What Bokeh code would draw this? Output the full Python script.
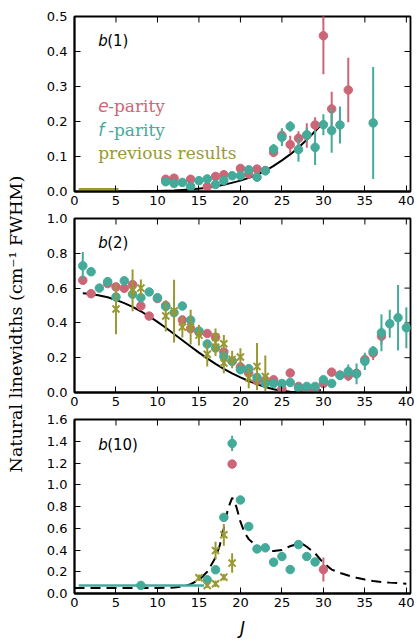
import numpy as np
from bokeh.plotting import figure
from bokeh.layouts import row, column
from bokeh.models import Range1d, LinearAxis, FixedTicker, PrintfTickFormatter, Label
from bokeh.embed import file_html
from bokeh.resources import INLINE

ROSE = "#CC6677"
TEAL = "#44AA99"
OLIVE = "#999933"
SANS = "DejaVu Sans"
SERIF = "DejaVu Serif"

X_MAX = 40.5
x_ticks = [0, 5, 10, 15, 20, 25, 30, 35, 40]

# ---- b(1) ----
b1_e_J = [11, 12, 14, 16, 17, 18, 20, 21, 22, 23, 24, 25, 26, 27, 28, 29, 30, 31, 33]
b1_e_w = [0.035, 0.038, 0.035, 0.014, 0.043, 0.048, 0.066, 0.050, 0.064, 0.060,
          0.112, 0.160, 0.134, 0.152, 0.160, 0.190, 0.445, 0.236, 0.290]
b1_e_err = [0.004, 0.004, 0.004, 0.004, 0.004, 0.005, 0.006, 0.006, 0.006, 0.008,
            0.012, 0.020, 0.025, 0.020, 0.035, 0.022, 0.110, 0.049, 0.092]
b1_f_J = [11, 12, 13, 14, 15, 16, 17, 18, 19, 20, 21, 22, 23, 24, 25, 26, 27, 28, 29, 30, 31, 32, 36]
b1_f_w = [0.028, 0.023, 0.026, 0.014, 0.031, 0.036, 0.020, 0.031, 0.045, 0.045, 0.062, 0.041,
          0.059, 0.121, 0.155, 0.186, 0.120, 0.162, 0.126, 0.191, 0.174, 0.190, 0.196]
b1_f_err = [0.004, 0.004, 0.004, 0.004, 0.004, 0.004, 0.004, 0.004, 0.005, 0.005, 0.005, 0.005,
            0.008, 0.015, 0.025, 0.015, 0.035, 0.020, 0.050, 0.030, 0.063, 0.053, 0.160]
b1_prev_J = [0.5, 5.3]
b1_prev_w = [0.006, 0.006]
b1_fit_J = [5, 8, 10, 12, 14, 16, 18, 20, 21, 22, 23, 24, 25, 26, 27, 28, 29, 29.7]
b1_fit_w = [0.0, 0.0005, 0.0015, 0.003, 0.006, 0.011, 0.019, 0.031, 0.039, 0.048,
            0.059, 0.073, 0.089, 0.106, 0.126, 0.148, 0.172, 0.190]

# ---- b(2) ----
b2_e_J = [1, 2, 4, 5, 6, 7, 8, 9, 10, 11, 13, 14, 15, 16, 17, 18, 19, 20, 21, 22, 23, 24,
          25, 26, 27, 28, 29, 30, 31, 32, 33, 34, 35, 36, 37]
b2_e_w = [0.645, 0.568, 0.626, 0.607, 0.599, 0.620, 0.497, 0.439, 0.540, 0.500, 0.417, 0.367,
          0.347, 0.339, 0.318, 0.233, 0.180, 0.147, 0.112, 0.067, 0.070, 0.073, 0.020, 0.112,
          0.035, 0.010, 0.020, 0.052, 0.117, 0.100, 0.096, 0.111, 0.189, 0.227, 0.324]
b2_e_err = [0.01] * 30 + [0.03, 0.02, 0.03, 0.04, 0.05]
b2_f_J = list(range(1, 41))
b2_f_w = [0.728, 0.694, 0.600, 0.637, 0.549, 0.642, 0.565, 0.545, 0.578, 0.545,
          0.494, 0.459, 0.497, 0.416, 0.353, 0.279, 0.256, 0.208, 0.179, 0.131,
          0.137, 0.087, 0.052, 0.052, 0.052, 0.058, 0.026, 0.035, 0.035, 0.073,
          0.052, 0.098, 0.121, 0.107, 0.179, 0.237, 0.343, 0.395, 0.430, 0.372]
b2_f_err = [0.08] + [0.01] * 31 + [0.04, 0.06, 0.05, 0.03, 0.106, 0.08, 0.188, 0.118]
b2_prev_J = [5, 7, 8, 11, 12, 13, 14, 15, 16, 17, 17, 18, 18, 19, 20, 21, 22, 23]
b2_prev_w = [0.48, 0.587, 0.60, 0.44, 0.468, 0.376, 0.376, 0.33, 0.22, 0.318, 0.26,
             0.28, 0.17, 0.19, 0.204, 0.084, 0.15, 0.092]
b2_prev_err = [0.145, 0.12, 0.05, 0.09, 0.18, 0.06, 0.10, 0.06, 0.07, 0.05, 0.05,
               0.05, 0.06, 0.05, 0.05, 0.06, 0.135, 0.12]
b2_fit_J = [1, 2, 3, 4, 5, 6, 7, 8, 9, 10, 11, 12, 13, 14, 15, 16, 17, 18, 19, 20,
            21, 22, 23, 24, 25, 26, 27, 28, 29, 29.7]
b2_fit_w = [0.570, 0.566, 0.558, 0.547, 0.532, 0.514, 0.492, 0.467, 0.438, 0.406,
            0.372, 0.336, 0.300, 0.264, 0.229, 0.196, 0.165, 0.136, 0.110, 0.087,
            0.066, 0.048, 0.032, 0.019, 0.010, 0.004, 0.002, 0.004, 0.009, 0.015]

# ---- b(10) ----
b10_e_J = [19, 30]
b10_e_w = [1.19, 0.22]
b10_e_err = [0.01, 0.11]
b10_f_J = [8, 16, 17, 18, 19, 20, 21, 22, 23, 24, 25, 26, 27, 28, 29]
b10_f_w = [0.074, 0.126, 0.218, 0.70, 1.38, 0.86, 0.616, 0.41, 0.42, 0.288, 0.34, 0.22, 0.45, 0.34, 0.29]
b10_f_err = [0.01, 0.01, 0.01, 0.02, 0.07, 0.02, 0.01, 0.01, 0.01, 0.01, 0.01, 0.01, 0.01, 0.01, 0.01]
b10_f_band_J = [0.5, 15.6]
b10_f_band_w = [0.074, 0.074]
b10_prev_J = [15, 16, 17, 17, 18, 18, 19]
b10_prev_w = [0.144, 0.074, 0.09, 0.395, 0.15, 0.54, 0.28]
b10_prev_err = [0.03, 0.02, 0.03, 0.08, 0.03, 0.10, 0.09]
b10_fit_J = [0, 5, 10, 12, 13, 14, 15, 16, 17, 17.5, 18, 18.5, 19, 19.5, 20, 20.5, 21, 22,
             23, 24, 25, 26, 27, 27.5, 28, 29, 30, 31, 32, 33, 34, 35, 36, 37, 38, 39, 40]
b10_fit_w = [0.05, 0.05, 0.05, 0.055, 0.065, 0.085, 0.125, 0.2, 0.33, 0.44, 0.6, 0.78, 0.88,
             0.8, 0.66, 0.56, 0.5, 0.43, 0.4, 0.39, 0.4, 0.435, 0.46, 0.455, 0.43, 0.37, 0.28,
             0.22, 0.19, 0.165, 0.145, 0.128, 0.115, 0.106, 0.1, 0.095, 0.09]

FRAME_W = 1.8
TICK_LEN = 6


def style_axis(ax, standoff):
    ax.major_tick_in = TICK_LEN
    ax.major_tick_out = 0
    ax.minor_tick_in = 0
    ax.minor_tick_out = 0
    ax.axis_line_color = "black"
    ax.axis_line_width = FRAME_W
    ax.major_tick_line_color = "black"
    ax.major_tick_line_width = 1
    ax.major_label_text_color = "black"
    ax.major_label_text_font = SANS
    ax.major_label_text_font_size = "13px"
    ax.major_label_standoff = standoff


def panel(height, top, bottom, ymax, yticks):
    p = figure(width=387, height=height, x_range=Range1d(0, X_MAX), y_range=Range1d(0, ymax),
               output_backend="svg", toolbar_location=None, x_axis_type=None, y_axis_type=None,
               min_border_left=44, min_border_right=7, min_border_top=top, min_border_bottom=bottom)
    p.outline_line_color = "black"
    p.outline_line_width = FRAME_W
    p.background_fill_color = "white"
    p.border_fill_color = "white"
    xb = LinearAxis(ticker=FixedTicker(ticks=x_ticks))
    style_axis(xb, 4)
    p.add_layout(xb, "below")
    yl = LinearAxis(ticker=FixedTicker(ticks=yticks), formatter=PrintfTickFormatter(format="%.1f"))
    style_axis(yl, 7)
    p.add_layout(yl, "left")
    # inward tick marks along the top and right edges of the frame
    p.ray(x=x_ticks, y=[ymax] * len(x_ticks), length=TICK_LEN, length_units="screen",
          angle=-np.pi / 2, line_color="black", line_width=1)
    p.ray(x=[X_MAX] * len(yticks), y=yticks, length=TICK_LEN, length_units="screen",
          angle=np.pi, line_color="black", line_width=1)
    return p


def errbars(p, J, w, err, color):
    J = np.asarray(J, float)
    w = np.asarray(w, float)
    e = np.asarray(err, float)
    p.segment(x0=J, y0=w - e, x1=J, y1=w + e, line_color=color, line_width=2)


def dots(p, J, w, err, color):
    errbars(p, J, w, err, color)
    p.scatter(J, w, size=8.5, fill_color=color, line_color=color)


def crosses(p, J, w, err):
    errbars(p, J, w, err, OLIVE)
    p.scatter(J, w, marker="x", size=10, line_color=OLIVE, line_width=2)


def tag(p, x, y, n):
    p.add_layout(Label(x=x, y=y, text="b", text_font=SANS, text_font_style="italic",
                       text_font_size="15px", text_baseline="middle", text_color="black"))
    p.add_layout(Label(x=x, y=y, x_offset=9, text="(%s)" % n, text_font=SANS,
                       text_font_size="15px", text_baseline="middle", text_color="black"))


# top panel
p1 = panel(212, 16, 21, 0.5, [0.0, 0.1, 0.2, 0.3, 0.4, 0.5])
p1.line(b1_fit_J, b1_fit_w, line_color="black", line_width=2)
p1.line(b1_prev_J, b1_prev_w, line_color=OLIVE, line_width=3)
dots(p1, b1_e_J, b1_e_w, b1_e_err, ROSE)
dots(p1, b1_f_J, b1_f_w, b1_f_err, TEAL)
tag(p1, 2.85, 0.431, "1")
for yv, lead, rest, col in ((0.245, "e", "-parity", ROSE), (0.177, "f", "-parity", TEAL)):
    p1.add_layout(Label(x=2.85, y=yv, text=lead, text_font=SANS, text_font_style="italic",
                        text_font_size="17px", text_baseline="middle", text_color=col))
    p1.add_layout(Label(x=2.85, y=yv, x_offset=10, text=rest, text_font=SERIF,
                        text_font_size="17px", text_baseline="middle", text_color=col))
p1.add_layout(Label(x=2.85, y=0.111, text="previous results", text_font=SERIF,
                    text_font_size="17px", text_baseline="middle", text_color=OLIVE))

# middle panel
p2 = panel(201, 6, 21, 1.0, [0.0, 0.2, 0.4, 0.6, 0.8, 1.0])
p2.line(b2_fit_J, b2_fit_w, line_color="black", line_width=2)
dots(p2, b2_e_J, b2_e_w, b2_e_err, ROSE)
dots(p2, b2_f_J, b2_f_w, b2_f_err, TEAL)
crosses(p2, b2_prev_J, b2_prev_w, b2_prev_err)
tag(p2, 2.85, 0.858, "2")

# bottom panel
p3 = panel(229, 6, 49, 1.6, [0.0, 0.2, 0.4, 0.6, 0.8, 1.0, 1.2, 1.4, 1.6])
p3.line(b10_fit_J, b10_fit_w, line_color="black", line_width=2, line_dash="10 6")
p3.line(b10_f_band_J, b10_f_band_w, line_color=TEAL, line_width=2.5)
dots(p3, b10_e_J, b10_e_w, b10_e_err, ROSE)
dots(p3, b10_f_J, b10_f_w, b10_f_err, TEAL)
crosses(p3, b10_prev_J, b10_prev_w, b10_prev_err)
tag(p3, 2.85, 1.37, "10")
xax = p3.below[0]
xax.axis_label = "J"
xax.axis_label_text_font = SANS
xax.axis_label_text_font_style = "italic"
xax.axis_label_text_font_size = "17px"
xax.axis_label_text_color = "black"
xax.axis_label_standoff = 8

# shared vertical axis title
ylab = figure(width=30, height=642, x_range=Range1d(0, 1), y_range=Range1d(0, 1),
              output_backend="svg", toolbar_location=None, x_axis_type=None, y_axis_type=None,
              min_border=0, outline_line_color=None)
ylab.add_layout(Label(x=0.53, y=0.496, angle=np.pi / 2, text="Natural linewidths (cm⁻¹ FWHM)",
                      text_font=SERIF, text_font_size="17.5px", text_align="center",
                      text_baseline="middle", text_color="black"))

layout = row(ylab, column(p1, p2, p3))
open("out.html", "w").write(file_html(layout, INLINE))
